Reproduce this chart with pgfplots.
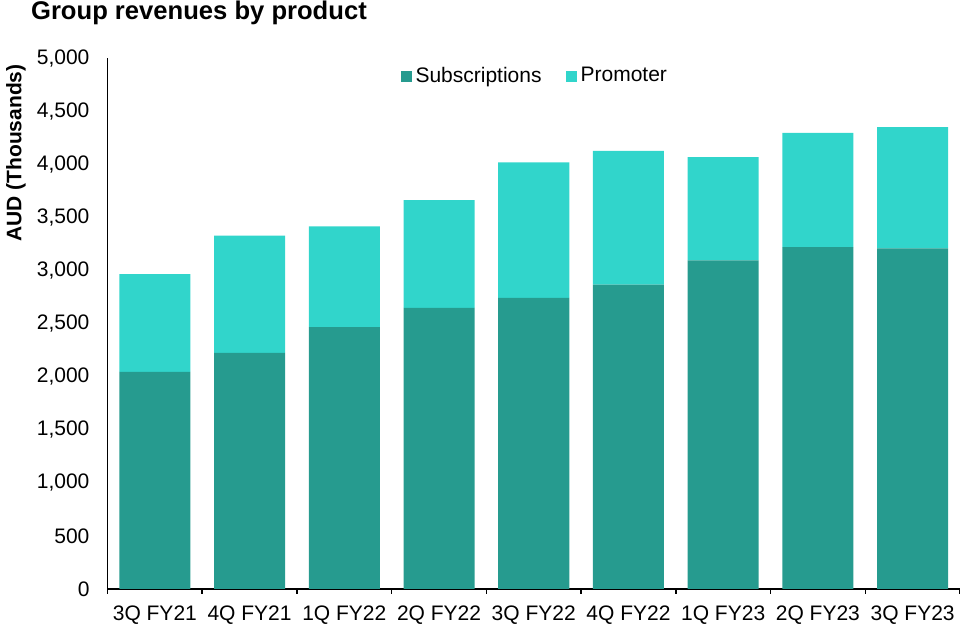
\documentclass[border=0pt]{standalone}
\usepackage{fontspec}
\setmainfont{Liberation Sans}
\usepackage{pgfplots}
\pgfplotsset{compat=1.18}
\usepackage{pgfplotstable}

\definecolor{subcol}{HTML}{269B8F}
\definecolor{procol}{HTML}{31D5CB}

\pgfplotsset{sqlegend/.style={legend image code/.code={\fill[##1] (0pt,-2.75pt) rectangle (5.5pt,2.75pt);}}}

% quarterly revenue, AUD thousands
\pgfplotstableread{
idx sub pro
0 2047 921
1 2226 1103
2 2468 949
3 2650 1015
4 2744 1276
5 2867 1262
6 3097 973
7 3222 1077
8 3210 1143
}\revtable

\begin{document}
\begin{tikzpicture}
\begin{axis}[
    at={(0,0)}, anchor=south west,
    scale only axis,
    width=426.25pt, height=265.3pt,
    ybar stacked, bar width=0.75,
    xmin=-0.5, xmax=8.5, ymin=0, ymax=5000,
    enlargelimits=false,
    axis x line*=bottom, axis y line*=left,
    axis line style={line width=0.75pt, black},
    xtick={0,...,8},
    xticklabels={3Q FY21,4Q FY21,1Q FY22,2Q FY22,3Q FY22,4Q FY22,1Q FY23,2Q FY23,3Q FY23},
    major tick length=0pt,
    extra x ticks={-0.5,0.5,1.5,2.5,3.5,4.5,5.5,6.5,7.5,8.5},
    extra x tick labels={},
    extra x tick style={major tick length=2.5pt, tick align=outside, tick style={black, line width=0.75pt}},
    ytick={0,500,...,5000},
    scaled y ticks=false,
    /pgf/number format/1000 sep={,},
    /pgf/number format/assume math mode=true,
    yticklabel style={xshift=-5.5pt},
    xticklabel style={yshift=-5pt},
    tick label style={font=\fontsize{10.5}{12}\selectfont},
    legend style={at={(0.5,1)}, anchor=center, yshift=-8.85pt, xshift=1pt, draw=none, fill=none,
        font=\fontsize{10.5}{12}\selectfont,
        /tikz/every even column/.append style={column sep=10pt}},
    legend columns=2,
]
\addplot[fill=subcol, draw=none, sqlegend] table[x=idx, y=sub] {\revtable};
\addplot[fill=procol, draw=none, sqlegend] table[x=idx, y=pro] {\revtable};
\legend{Subscriptions,Promoter}
\end{axis}
\node[anchor=base west, inner sep=0pt, font=\fontsize{12.8}{14}\selectfont\bfseries] at (-38.4pt,284.5pt) {Group revenues by product};
\node[rotate=90, anchor=center, font=\fontsize{10.5}{12}\selectfont\bfseries] at (-45.75pt,218pt) {AUD (Thousands)};
\pgfresetboundingbox
\path[use as bounding box] (-53.75pt,-18pt) rectangle (426.25pt,294.5pt);
\end{tikzpicture}
\end{document}
